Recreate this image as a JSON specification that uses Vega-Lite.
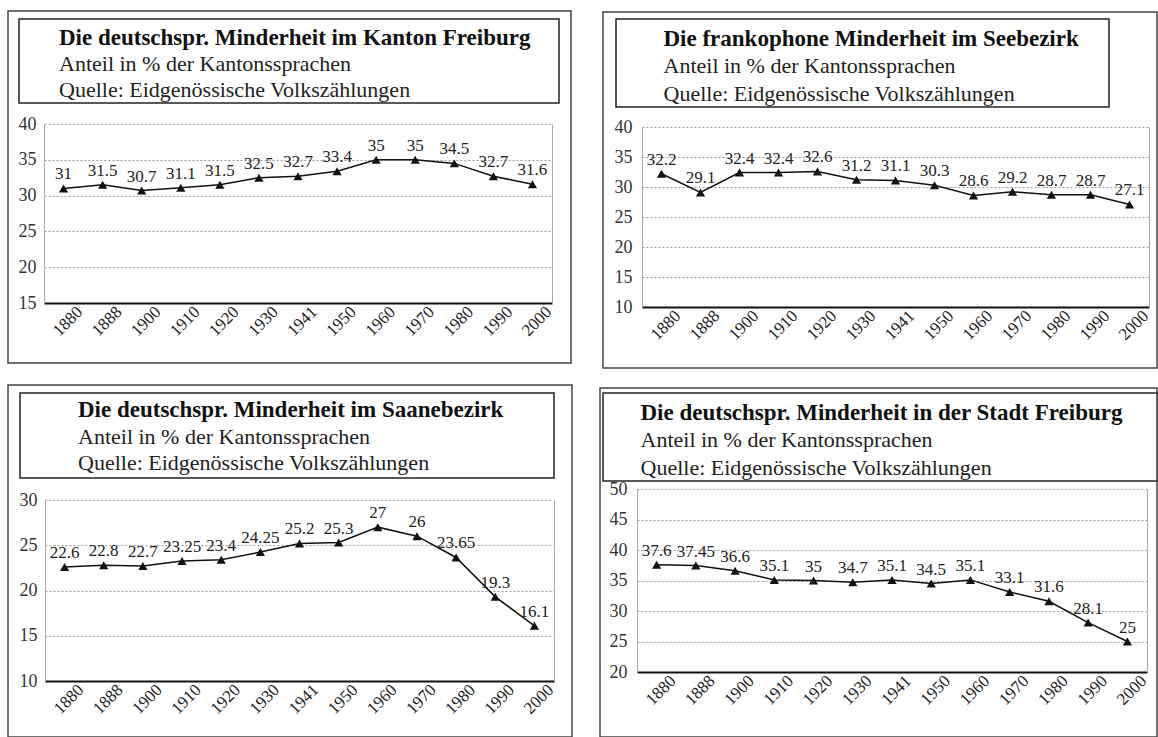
{
  "$schema": "https://vega.github.io/schema/vega-lite/v6.json",
  "background": "white",
  "padding": {"left": 7, "top": 10, "right": 0, "bottom": 0},
  "datasets": {
    "kanton": [
      {"Jahr": "1880", "Anteil": 31}, {"Jahr": "1888", "Anteil": 31.5}, {"Jahr": "1900", "Anteil": 30.7},
      {"Jahr": "1910", "Anteil": 31.1}, {"Jahr": "1920", "Anteil": 31.5}, {"Jahr": "1930", "Anteil": 32.5},
      {"Jahr": "1941", "Anteil": 32.7}, {"Jahr": "1950", "Anteil": 33.4}, {"Jahr": "1960", "Anteil": 35},
      {"Jahr": "1970", "Anteil": 35}, {"Jahr": "1980", "Anteil": 34.5}, {"Jahr": "1990", "Anteil": 32.7},
      {"Jahr": "2000", "Anteil": 31.6}
    ],
    "see": [
      {"Jahr": "1880", "Anteil": 32.2}, {"Jahr": "1888", "Anteil": 29.1}, {"Jahr": "1900", "Anteil": 32.4},
      {"Jahr": "1910", "Anteil": 32.4}, {"Jahr": "1920", "Anteil": 32.6}, {"Jahr": "1930", "Anteil": 31.2},
      {"Jahr": "1941", "Anteil": 31.1}, {"Jahr": "1950", "Anteil": 30.3}, {"Jahr": "1960", "Anteil": 28.6},
      {"Jahr": "1970", "Anteil": 29.2}, {"Jahr": "1980", "Anteil": 28.7}, {"Jahr": "1990", "Anteil": 28.7},
      {"Jahr": "2000", "Anteil": 27.1}
    ],
    "saane": [
      {"Jahr": "1880", "Anteil": 22.6}, {"Jahr": "1888", "Anteil": 22.8}, {"Jahr": "1900", "Anteil": 22.7},
      {"Jahr": "1910", "Anteil": 23.25}, {"Jahr": "1920", "Anteil": 23.4}, {"Jahr": "1930", "Anteil": 24.25},
      {"Jahr": "1941", "Anteil": 25.2}, {"Jahr": "1950", "Anteil": 25.3}, {"Jahr": "1960", "Anteil": 27},
      {"Jahr": "1970", "Anteil": 26}, {"Jahr": "1980", "Anteil": 23.65}, {"Jahr": "1990", "Anteil": 19.3},
      {"Jahr": "2000", "Anteil": 16.1}
    ],
    "stadt": [
      {"Jahr": "1880", "Anteil": 37.6}, {"Jahr": "1888", "Anteil": 37.45}, {"Jahr": "1900", "Anteil": 36.6},
      {"Jahr": "1910", "Anteil": 35.1}, {"Jahr": "1920", "Anteil": 35}, {"Jahr": "1930", "Anteil": 34.7},
      {"Jahr": "1941", "Anteil": 35.1}, {"Jahr": "1950", "Anteil": 34.5}, {"Jahr": "1960", "Anteil": 35.1},
      {"Jahr": "1970", "Anteil": 33.1}, {"Jahr": "1980", "Anteil": 31.6}, {"Jahr": "1990", "Anteil": 28.1},
      {"Jahr": "2000", "Anteil": 25}
    ],
    "untertitel": [
      {"Zeile": 2, "Text": "Anteil in % der Kantonssprachen"},
      {"Zeile": 3, "Text": "Quelle: Eidgenössische Volkszählungen"}
    ]
  },
  "vconcat": [
    {
      "hconcat": [
        {
          "concat": [
            {
              "hconcat": [
                {"width": 10, "height": 1, "data": {"values": []}, "mark": "point", "view": {"stroke": null, "fill": "white"}},
                {
                  "width": 540, "height": 84,
                  "view": {"stroke": "#222", "strokeWidth": 1.5},
                  "layer": [
                    {
                      "data": {"values": [{"Zeile": 1, "Text": "Die deutschspr. Minderheit im Kanton Freiburg"}]},
                      "mark": {"type": "text", "font": "Liberation Serif", "align": "left", "baseline": "middle", "fontWeight": "bold", "fontSize": 23, "dx": -230, "dy": 3, "color": "#111"},
                      "encoding": {"y": {"field": "Zeile", "type": "ordinal", "axis": null, "scale": {"domain": [1, 2, 3], "padding": 0.6}}, "text": {"field": "Text"}}
                    },
                    {
                      "data": {"name": "untertitel"},
                      "mark": {"type": "text", "font": "Liberation Serif", "align": "left", "baseline": "middle", "fontSize": 22, "dx": -230, "dy": 3, "color": "#222"},
                      "encoding": {"y": {"field": "Zeile", "type": "ordinal", "axis": null, "scale": {"domain": [1, 2, 3], "padding": 0.6}}, "text": {"field": "Text"}}
                    }
                  ]
                }
              ],
              "spacing": 0
            },
            {
              "width": 563, "height": 352,
              "view": {"stroke": "#444", "strokeWidth": 1.5},
              "data": {"name": "kanton"},
              "encoding": {
                "x": {"field": "Jahr", "type": "ordinal", "scale": {"type": "point", "padding": 0.5, "range": [36, 544]}, "axis": {"offset": -60}},
                "y": {"field": "Anteil", "type": "quantitative", "scale": {"domain": [15, 40], "range": [292, 113]}, "axis": {"values": [15, 20, 25, 30, 35, 40], "offset": -36}}
              },
              "layer": [
                {"mark": {"type": "line", "color": "#111", "strokeWidth": 1.5}},
                {"mark": {"type": "point", "shape": "triangle-up", "filled": true, "color": "#111", "size": 85, "opacity": 1},
                 "encoding": {"y": {"field": "Anteil", "type": "quantitative", "scale": {"domain": [15, 40], "range": [292, 113]}, "axis": {"orient": "right", "offset": -19, "labels": false, "grid": false}}}},
                {"mark": {"type": "text", "font": "Liberation Serif", "baseline": "bottom", "dy": -5, "fontSize": 17, "color": "#222"},
                 "encoding": {"y": {"field": "Anteil", "type": "quantitative", "scale": {"domain": [15, 40], "range": [292, 113]}, "axis": null}, "text": {"field": "Anteil", "type": "nominal"}}}
              ],
              "resolve": {"axis": {"y": "independent"}}
            }
          ],
          "columns": 1, "align": "none", "spacing": -94
        },
        {
          "concat": [
            {
              "hconcat": [
                {"width": 12, "height": 1, "data": {"values": []}, "mark": "point", "view": {"stroke": null, "fill": "white"}},
                {
                  "width": 493, "height": 88,
                  "view": {"stroke": "#222", "strokeWidth": 1.5},
                  "layer": [
                    {
                      "data": {"values": [{"Zeile": 1, "Text": "Die frankophone Minderheit im Seebezirk"}]},
                      "mark": {"type": "text", "font": "Liberation Serif", "align": "left", "baseline": "middle", "fontWeight": "bold", "fontSize": 23, "dx": -199, "dy": 3, "color": "#111"},
                      "encoding": {"y": {"field": "Zeile", "type": "ordinal", "axis": null, "scale": {"domain": [1, 2, 3], "padding": 0.6}}, "text": {"field": "Text"}}
                    },
                    {
                      "data": {"name": "untertitel"},
                      "mark": {"type": "text", "font": "Liberation Serif", "align": "left", "baseline": "middle", "fontSize": 22, "dx": -199, "dy": 3, "color": "#222"},
                      "encoding": {"y": {"field": "Zeile", "type": "ordinal", "axis": null, "scale": {"domain": [1, 2, 3], "padding": 0.6}}, "text": {"field": "Text"}}
                    }
                  ]
                }
              ],
              "spacing": 0
            },
            {
              "width": 554, "height": 356,
              "view": {"stroke": "#444", "strokeWidth": 1.5},
              "data": {"name": "see"},
              "encoding": {
                "x": {"field": "Jahr", "type": "ordinal", "scale": {"type": "point", "padding": 0.5, "range": [39, 546]}, "axis": {"offset": -61}},
                "y": {"field": "Anteil", "type": "quantitative", "scale": {"domain": [10, 40], "range": [295, 115]}, "axis": {"values": [10, 15, 20, 25, 30, 35, 40], "offset": -39, "labelPadding": 10}}
              },
              "layer": [
                {"mark": {"type": "line", "color": "#111", "strokeWidth": 1.5}},
                {"mark": {"type": "point", "shape": "triangle-up", "filled": true, "color": "#111", "size": 85, "opacity": 1},
                 "encoding": {"y": {"field": "Anteil", "type": "quantitative", "scale": {"domain": [10, 40], "range": [295, 115]}, "axis": {"orient": "right", "offset": -8, "labels": false, "grid": false}}}},
                {"mark": {"type": "text", "font": "Liberation Serif", "baseline": "bottom", "dy": -5, "fontSize": 17, "color": "#222"},
                 "encoding": {"y": {"field": "Anteil", "type": "quantitative", "scale": {"domain": [10, 40], "range": [295, 115]}, "axis": null}, "text": {"field": "Anteil", "type": "nominal"}}}
              ],
              "resolve": {"axis": {"y": "independent"}}
            }
          ],
          "columns": 1, "align": "none", "spacing": -97
        }
      ],
      "spacing": 30
    },
    {
      "hconcat": [
        {
          "concat": [
            {
              "hconcat": [
                {"width": 11, "height": 1, "data": {"values": []}, "mark": "point", "view": {"stroke": null, "fill": "white"}},
                {
                  "width": 534, "height": 85,
                  "view": {"stroke": "#222", "strokeWidth": 1.5},
                  "layer": [
                    {
                      "data": {"values": [{"Zeile": 1, "Text": "Die deutschspr. Minderheit im Saanebezirk"}]},
                      "mark": {"type": "text", "font": "Liberation Serif", "align": "left", "baseline": "middle", "fontWeight": "bold", "fontSize": 23, "dx": -209, "dy": 1, "color": "#111"},
                      "encoding": {"y": {"field": "Zeile", "type": "ordinal", "axis": null, "scale": {"domain": [1, 2, 3], "padding": 0.6}}, "text": {"field": "Text"}}
                    },
                    {
                      "data": {"name": "untertitel"},
                      "mark": {"type": "text", "font": "Liberation Serif", "align": "left", "baseline": "middle", "fontSize": 22, "dx": -209, "dy": 1, "color": "#222"},
                      "encoding": {"y": {"field": "Zeile", "type": "ordinal", "axis": null, "scale": {"domain": [1, 2, 3], "padding": 0.6}}, "text": {"field": "Text"}}
                    }
                  ]
                }
              ],
              "spacing": 0
            },
            {
              "width": 564, "height": 352,
              "view": {"stroke": "#444", "strokeWidth": 1.5},
              "data": {"name": "saane"},
              "encoding": {
                "x": {"field": "Jahr", "type": "ordinal", "scale": {"type": "point", "padding": 0.5, "range": [37, 546]}, "axis": {"offset": -56}},
                "y": {"field": "Anteil", "type": "quantitative", "scale": {"domain": [10, 30], "range": [296, 115]}, "axis": {"values": [10, 15, 20, 25, 30], "offset": -37}}
              },
              "layer": [
                {"mark": {"type": "line", "color": "#111", "strokeWidth": 1.5}},
                {"mark": {"type": "point", "shape": "triangle-up", "filled": true, "color": "#111", "size": 85, "opacity": 1},
                 "encoding": {"y": {"field": "Anteil", "type": "quantitative", "scale": {"domain": [10, 30], "range": [296, 115]}, "axis": {"orient": "right", "offset": -18, "labels": false, "grid": false}}}},
                {"mark": {"type": "text", "font": "Liberation Serif", "baseline": "bottom", "dy": -5, "fontSize": 17, "color": "#222"},
                 "encoding": {"y": {"field": "Anteil", "type": "quantitative", "scale": {"domain": [10, 30], "range": [296, 115]}, "axis": null}, "text": {"field": "Anteil", "type": "nominal"}}}
              ],
              "resolve": {"axis": {"y": "independent"}}
            }
          ],
          "columns": 1, "align": "none", "spacing": -95
        },
        {
          "concat": [
            {
              "hconcat": [
                {"width": 2, "height": 1, "data": {"values": []}, "mark": "point", "view": {"stroke": null, "fill": "white"}},
                {
                  "width": 555, "height": 88,
                  "view": {"stroke": "#222", "strokeWidth": 1.5},
                  "layer": [
                    {
                      "data": {"values": [{"Zeile": 1, "Text": "Die deutschspr. Minderheit in der Stadt Freiburg"}]},
                      "mark": {"type": "text", "font": "Liberation Serif", "align": "left", "baseline": "middle", "fontWeight": "bold", "fontSize": 23, "dx": -240, "dy": 3, "color": "#111"},
                      "encoding": {"y": {"field": "Zeile", "type": "ordinal", "axis": null, "scale": {"domain": [1, 2, 3], "padding": 0.6}}, "text": {"field": "Text"}}
                    },
                    {
                      "data": {"name": "untertitel"},
                      "mark": {"type": "text", "font": "Liberation Serif", "align": "left", "baseline": "middle", "fontSize": 22, "dx": -240, "dy": 3, "color": "#222"},
                      "encoding": {"y": {"field": "Zeile", "type": "ordinal", "axis": null, "scale": {"domain": [1, 2, 3], "padding": 0.6}}, "text": {"field": "Text"}}
                    }
                  ]
                }
              ],
              "spacing": 0
            },
            {
              "width": 557, "height": 349,
              "view": {"stroke": "#444", "strokeWidth": 1.5},
              "data": {"name": "stadt"},
              "encoding": {
                "x": {"field": "Jahr", "type": "ordinal", "scale": {"type": "point", "padding": 0.5, "range": [37, 547]}, "axis": {"offset": -65}},
                "y": {"field": "Anteil", "type": "quantitative", "scale": {"domain": [20, 50], "range": [284, 101]}, "axis": {"values": [20, 25, 30, 35, 40, 45, 50], "offset": -37, "labelPadding": 10}}
              },
              "layer": [
                {"mark": {"type": "line", "color": "#111", "strokeWidth": 1.5}},
                {"mark": {"type": "point", "shape": "triangle-up", "filled": true, "color": "#111", "size": 85, "opacity": 1},
                 "encoding": {"y": {"field": "Anteil", "type": "quantitative", "scale": {"domain": [20, 50], "range": [284, 101]}, "axis": {"orient": "right", "offset": -10, "labels": false, "grid": false}}}},
                {"mark": {"type": "text", "font": "Liberation Serif", "baseline": "bottom", "dy": -5, "fontSize": 17, "color": "#222"},
                 "encoding": {"y": {"field": "Anteil", "type": "quantitative", "scale": {"domain": [20, 50], "range": [284, 101]}, "axis": null}, "text": {"field": "Anteil", "type": "nominal"}}}
              ],
              "resolve": {"axis": {"y": "independent"}}
            }
          ],
          "columns": 1, "align": "none", "spacing": -95
        }
      ],
      "spacing": 26
    }
  ],
  "spacing": 15,
  "config": {
    "font": "Liberation Serif",
    "view": {"stroke": "#aaa", "strokeWidth": 1},
    "axisX": {"grid": false, "ticks": false, "domainColor": "#111", "domainWidth": 2, "labelAngle": -45, "labelAlign": "right", "labelBaseline": "middle", "labelFont": "Liberation Serif", "labelFontSize": 17, "labelColor": "#222", "labelPadding": 6, "labelOffset": 16, "title": null},
    "axisY": {"grid": true, "gridColor": "#999", "gridDash": [2, 2], "gridWidth": 1, "ticks": false, "domain": true, "domainColor": "#aaa", "domainWidth": 1, "labelFont": "Liberation Serif", "labelFontSize": 18, "labelColor": "#333", "labelPadding": 8, "title": null}
  }
}
